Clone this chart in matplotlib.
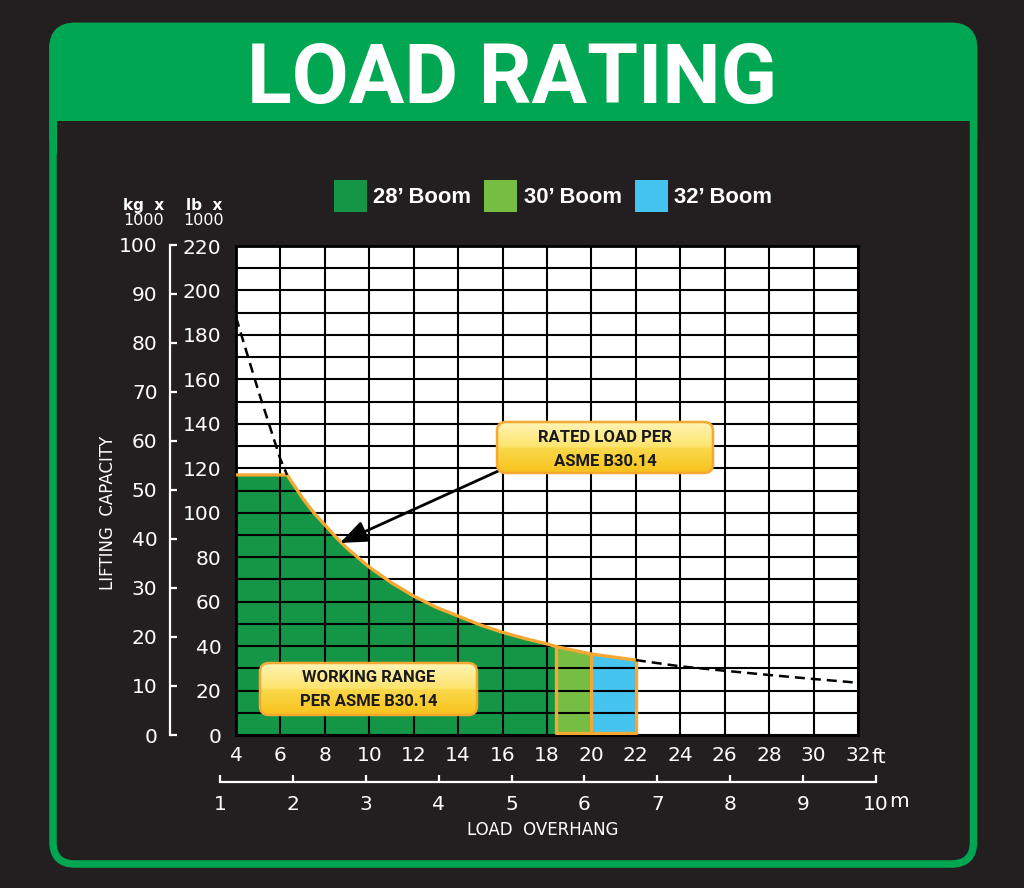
## load rating chart for the boom - recreated with matplotlib
import numpy as np
import matplotlib
matplotlib.use("Agg")
import matplotlib.pyplot as plt
from matplotlib.patches import FancyBboxPatch, Rectangle, Patch
from matplotlib.colors import LinearSegmentedColormap

## data (lb x 1000 against overhang in ft)
overhang_ft = np.array([4, 5, 6, 6.3, 7, 7.5, 8, 8.5, 9, 10, 11, 12, 13, 14, 15,
                        16, 17, 18, 18.4, 20, 22, 24, 26, 28, 30, 32])
rated_lb = np.array([188, 155, 124, 117, 106.5, 100, 94.5, 89, 84, 75.5, 68.5,
                     62.5, 57.5, 53.5, 49.5, 46.2, 43.4, 41, 39.8, 36.4, 33.7,
                     30.9, 28.9, 27, 25.2, 23.5])
max_capacity_lb = 117
boom_names = ["28\u2019 Boom", "30\u2019 Boom", "32\u2019 Boom"]
boom_reach_ft = [18.4, 20.0, 22.0]
boom_colors = ["#149646", "#76be43", "#44c4ee"]

ft_ticks = list(range(4, 33, 2))
lb_ticks = list(range(0, 221, 20))
kg_ticks = list(range(0, 101, 10))
m_ticks = list(range(1, 11))

## colours and sizes
W, H = 1024, 888
bg_col = "#231f20"
frame_green = "#00a651"
orange = "#f7a833"
num_font = "DejaVu Sans"
bold_font = ["Liberation Sans", "DejaVu Sans"]
narrow_font = ["Roboto", "Liberation Sans", "DejaVu Sans"]


def px(x0, y0, x1, y1):
    ## pixel box (top-left origin) -> figure fraction rect
    return [x0 / W, 1 - y1 / H, (x1 - x0) / W, (y1 - y0) / H]


fig = plt.figure(figsize=(W / 100, H / 100), dpi=100, facecolor=bg_col)

## background layer: frame and header
bg = fig.add_axes([0, 0, 1, 1], zorder=-1)
bg.set_xlim(0, W)
bg.set_ylim(H, 0)
bg.axis("off")
bg.add_patch(FancyBboxPatch((53, 26.5), 920.5, 130,
                            boxstyle="round,pad=0,rounding_size=22",
                            fc=frame_green, ec=frame_green, lw=5.4))
bg.add_patch(Rectangle((57, 121), 913, 60, fc=bg_col, ec="none"))
bg.add_patch(FancyBboxPatch((53, 26.5), 920.5, 837.5,
                            boxstyle="round,pad=0,rounding_size=22",
                            fc="none", ec=frame_green, lw=5.4))
bg.text(512, 103, "LOAD RATING", color="white", fontsize=59.5, fontweight="bold",
        family=narrow_font, ha="center", va="baseline")

## main chart (ft / lb)
ax = fig.add_axes(px(236, 246, 858, 735))
ax.set_facecolor("white")
ax.set_xlim(4, 32)
ax.set_ylim(0, 220)

working_lb = np.minimum(rated_lb, max_capacity_lb)

## working range fills per boom
start = 4
for reach, col in zip(boom_reach_ft, boom_colors):
    m = (overhang_ft >= start) & (overhang_ft <= reach)
    ax.fill_between(overhang_ft[m], 0, working_lb[m], color=col, lw=0, zorder=1)
    start = reach

## orange outline of the working range
m = overhang_ft <= boom_reach_ft[-1]
ax.plot(overhang_ft[m], working_lb[m], color=orange, lw=2.4, zorder=4,
        solid_capstyle="butt", solid_joinstyle="round", clip_on=False)
edge_lb = [working_lb[overhang_ft == r][0] for r in boom_reach_ft]
ax.plot([boom_reach_ft[0], boom_reach_ft[0], boom_reach_ft[2], boom_reach_ft[2]],
        [edge_lb[0], 0.9, 0.9, edge_lb[2]], color=orange, lw=2.4, zorder=4)
ax.plot([boom_reach_ft[1], boom_reach_ft[1]], [0.9, edge_lb[1]], color=orange,
        lw=2.4, zorder=4)

## dashed rated load curve outside the working range
for m in [overhang_ft <= 6.3, overhang_ft >= boom_reach_ft[-1]]:
    ax.plot(overhang_ft[m], rated_lb[m], color="black", lw=1.8, zorder=4,
            dashes=(4, 2.4))

ax.set_xticks(ft_ticks)
ax.set_yticks(lb_ticks)
ax.set_yticks(range(0, 221, 10), minor=True)
ax.grid(which="both", color="black", lw=1.5)
ax.set_axisbelow(False)
ax.tick_params(which="both", length=0, colors="white", labelsize=14.5)
ax.tick_params(axis="x", pad=8)
ax.tick_params(axis="y", pad=10.5)
for lab in ax.get_xticklabels() + ax.get_yticklabels():
    lab.set_family(num_font)
for s in ax.spines.values():
    s.set_color("black")
    s.set_linewidth(2)

ax.annotate("", xy=(8.68, 86.4), xytext=(15.9, 119.2),
            arrowprops=dict(arrowstyle="-|>,head_length=0.55,head_width=0.22",
                            mutation_scale=30, lw=2, color="black",
                            shrinkA=0, shrinkB=0), zorder=5)

## kg axis
kax = fig.add_axes(px(170, 735 - 100 * 2.20462 * (489 / 220), 171, 735))
kax.set_ylim(0, 100)
kax.set_yticks(kg_ticks)
kax.set_xticks([])
kax.patch.set_alpha(0)
for k, s in kax.spines.items():
    s.set_visible(k == "left")
kax.spines["left"].set_color("white")
kax.spines["left"].set_linewidth(1.6)
kax.tick_params(axis="y", direction="in", length=5, width=1.6, colors="white",
                labelsize=14.5, pad=9)
for lab in kax.get_yticklabels():
    lab.set_family(num_font)

## metre axis
mx = fig.add_axes(px(220, 700, 876, 782))
mx.set_xlim(1, 10)
mx.set_xticks(m_ticks)
mx.set_yticks([])
mx.patch.set_alpha(0)
for k, s in mx.spines.items():
    s.set_visible(k == "bottom")
mx.spines["bottom"].set_color("white")
mx.spines["bottom"].set_linewidth(1.6)
mx.tick_params(axis="x", direction="in", length=5, width=1.6, colors="white",
               labelsize=14.5, pad=9)
for lab in mx.get_xticklabels():
    lab.set_family(num_font)

## unit labels and axis titles
fig.text(871 / W, 1 - 763 / H, "ft", color="white", fontsize=14.5,
         family=num_font, ha="left", va="baseline")
fig.text(889 / W, 1 - 807 / H, "m", color="white", fontsize=14.5,
         family=num_font, ha="left", va="baseline")
fig.text(144 / W, 1 - 210 / H, "kg  x", color="white", fontsize=11,
         family=num_font, ha="center", va="baseline", fontweight="bold")
fig.text(144 / W, 1 - 225 / H, "1000", color="white", fontsize=11.5,
         family=num_font, ha="center", va="baseline")
fig.text(204 / W, 1 - 210 / H, "lb  x", color="white", fontsize=11,
         family=num_font, ha="center", va="baseline", fontweight="bold")
fig.text(204 / W, 1 - 225 / H, "1000", color="white", fontsize=11.5,
         family=num_font, ha="center", va="baseline")
fig.text(108 / W, 1 - 513 / H, "LIFTING  CAPACITY", color="white", fontsize=12,
         family=num_font, rotation=90, ha="center", va="center")
fig.text(543 / W, 1 - 830 / H, "LOAD  OVERHANG", color="white", fontsize=12,
         family=num_font, ha="center", va="center")

## legend
handles = [Patch(facecolor=c, edgecolor="none") for c in boom_colors]
fig.legend(handles, boom_names, loc="center", bbox_to_anchor=(553 / W, 1 - 196 / H),
           ncol=3, frameon=False, handlelength=1.5, handleheight=1.8,
           handletextpad=0.3, columnspacing=0.6, labelcolor="white",
           prop=dict(family=bold_font, weight="bold", size=15.8))

## yellow call-out boxes
fg = fig.add_axes([0, 0, 1, 1], zorder=5)
fg.axis("off")
ycmap = LinearSegmentedColormap.from_list(
    "callout", [(0, "#fff4b5"), (0.48, "#fde46e"), (0.52, "#fad84a"), (1, "#f7c31c")])
grad = np.linspace(0, 1, 64).reshape(-1, 1)


def callout(x0, y0, x1, y1, line1, line2, base1, base2):
    box = FancyBboxPatch((x0, y0), x1 - x0, y1 - y0,
                         boxstyle="round,pad=0,rounding_size=9",
                         fc="none", ec=orange, lw=1.8, zorder=2)
    fg.add_patch(box)
    im = fg.imshow(grad, cmap=ycmap, extent=(x0, x1, y1, y0), aspect="auto",
                   origin="upper", zorder=1)
    im.set_clip_path(box)
    cx = (x0 + x1) / 2
    for txt, b in [(line1, base1), (line2, base2)]:
        fg.text(cx, b, txt, color="#1a1a1a", fontsize=12, fontweight="bold",
                family=narrow_font, ha="center", va="baseline", zorder=3)


callout(497, 422, 713, 473, "RATED LOAD PER", "ASME B30.14", 442, 466)
callout(260, 663, 477, 715, "WORKING RANGE", "PER ASME B30.14", 682, 706)
fg.set_xlim(0, W)
fg.set_ylim(H, 0)

fig.savefig("out.png", dpi=100, facecolor=bg_col)
